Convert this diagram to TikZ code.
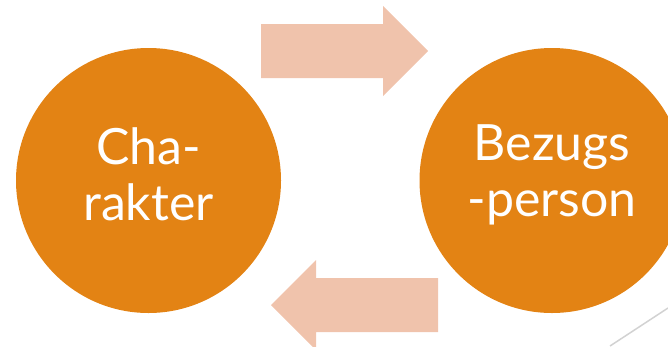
\documentclass[tikz,border=0pt]{standalone}
\usepackage{fontspec}
\setmainfont{Lato}
\begin{document}
\begin{tikzpicture}[x=1pt,y=-1pt,
  blob/.style={circle, fill=orangefill, minimum size=265pt, inner sep=0pt},
  blobtext/.style={text=white, inner sep=0pt, align=center,
    font=\fontsize{50}{56}\selectfont},
  flowarrow/.style={fill=arrowfill, draw=none}]
\definecolor{orangefill}{RGB}{227,131,20}
\definecolor{arrowfill}{RGB}{240,195,172}
\useasboundingbox (0,0) rectangle (668,346);
\begin{scope}
\clip (0,0) rectangle (668,346);
% the two partners
\node[blob] (char) at (148.5,180.5) {};
\node[blob] (bezug) at (552,180.5) {};
\node[blobtext, yshift=6pt] (charlbl) at (char.center) {Cha-\\rakter};
\node[blobtext, yshift=6pt] (bezuglbl) at (bezug.center) {Bezugs\\-person};
% exchange arrows between them
\fill[flowarrow] (261,24) -- (383,24) -- (383,6) -- (428,51) -- (383,96) -- (383,78) -- (261,78) -- cycle;
\fill[flowarrow] (438,278) -- (316,278) -- (316,260) -- (271,305) -- (316,350) -- (316,332) -- (438,332) -- cycle;
% corner rule
\coordinate (ra) at (610,346);
\coordinate (rb) at (668,308);
\draw[gray!35, line width=1.5pt] (ra) -- (rb);
\end{scope}
\end{tikzpicture}
\end{document}
